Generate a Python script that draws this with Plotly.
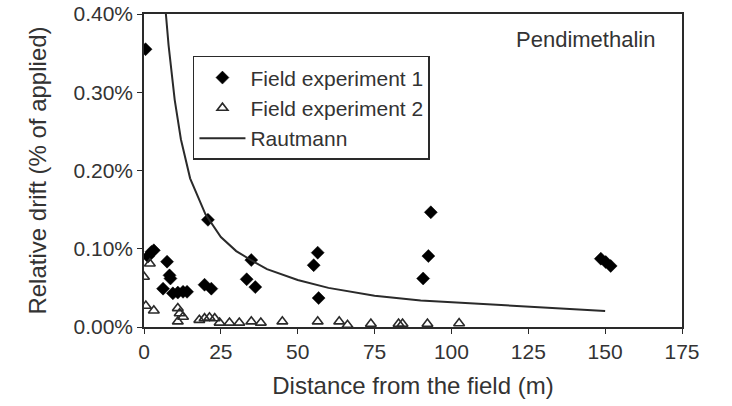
import plotly.graph_objects as go

# Field experiment 1 (distance m, relative drift fraction)
exp1_x = [0.5, 1.3, 2.4, 3.2, 7.5, 8.3, 8.6, 6.2, 9.4, 11.0, 12.7, 14.0,
          20.8, 19.7, 21.9, 34.9, 33.4, 36.2, 56.5, 55.2, 56.8,
          93.3, 92.5, 90.8, 148.6, 150.2, 151.8]
exp1_y = [0.00355, 0.00090, 0.00096, 0.00098, 0.000835, 0.00066, 0.00062, 0.00049,
          0.00043, 0.00044, 0.00045, 0.00045,
          0.00137, 0.00054, 0.00049, 0.000856, 0.00061, 0.00051,
          0.00095, 0.00079, 0.00037,
          0.001466, 0.000907, 0.00062, 0.000873, 0.00083, 0.00078]

# Field experiment 2
exp2_x = [0.0, 1.9, 0.6, 3.2, 11.0, 11.6, 12.7, 11.0, 18.0, 19.7, 21.3, 23.0,
          24.6, 27.8, 31.0, 34.9, 38.0, 45.0, 56.5, 63.5, 66.2, 73.8,
          82.8, 84.1, 92.2, 102.5]
exp2_y = [0.00064, 0.00081, 0.00027, 0.00021, 0.00024, 0.000175, 0.00013, 0.00007,
          0.00009, 0.00011, 0.00012, 0.00011, 0.000055, 0.000055, 0.000055,
          0.00007, 0.000055, 0.00007, 0.00007, 0.00007, 0.000025, 0.00004,
          0.00004, 0.00004, 0.00004, 0.000047]

# Rautmann curve
raut_x = [6.9, 8, 10, 12, 15, 20, 25, 30, 35, 40, 50, 60, 75, 90, 150]
raut_y = [0.0041, 0.0036, 0.0029, 0.0024, 0.0019, 0.00144, 0.00115, 0.00097,
          0.00085, 0.00074, 0.00060, 0.00050, 0.00040, 0.00034, 0.000205]

x_ticks = [0, 25, 50, 75, 100, 125, 150, 175]
y_ticks = [0.0, 0.001, 0.002, 0.003, 0.004]

FONT = "Liberation Sans, Arial, Helvetica, sans-serif"
INK = "#2a2a2a"

fig = go.Figure()
fig.add_trace(go.Scatter(
    x=exp1_x, y=exp1_y, mode="markers", name="Field experiment 1",
    marker=dict(symbol="diamond", size=10, color="black",
                line=dict(width=0.5, color="black"))))
fig.add_trace(go.Scatter(
    x=exp2_x, y=exp2_y, mode="markers", name="Field experiment 2",
    marker=dict(symbol="triangle-up-open", size=9.5, color=INK,
                line=dict(width=1.6, color=INK))))
fig.add_trace(go.Scatter(
    x=raut_x, y=raut_y, mode="lines", name="Rautmann",
    line=dict(color=INK, width=2)))

fig.update_layout(
    width=732, height=406,
    margin=dict(l=144, r=50, t=14, b=79),
    paper_bgcolor="white", plot_bgcolor="white",
    font=dict(family=FONT, size=21, color="#333"),
    showlegend=True,
    legend=dict(x=0.091, y=0.866, xanchor="left", yanchor="top",
                bordercolor=INK, borderwidth=1.5, bgcolor="white",
                font=dict(size=21, color="#333"),
                tracegroupgap=0, itemwidth=46),
    annotations=[dict(text="Pendimethalin", xref="paper", yref="paper",
                      x=0.954, y=0.965, xanchor="right", yanchor="top",
                      showarrow=False, font=dict(size=22, color="#333"))],
)
fig.update_xaxes(
    range=[0, 175], tickvals=x_ticks, ticktext=[str(v) for v in x_ticks],
    showline=True, linecolor=INK, linewidth=1.5, mirror=True, automargin=False,
    ticks="outside", ticklen=5, tickcolor=INK, showgrid=False, zeroline=False,
    title=dict(text="Distance from the field (m)", font=dict(size=24), standoff=15),
    tickfont=dict(size=21))
fig.update_yaxes(
    range=[0, 0.004], tickvals=y_ticks, tickformat=".2%",
    showline=True, linecolor=INK, linewidth=1.5, mirror=True, automargin=False,
    ticks="outside", ticklen=5, tickcolor=INK, showgrid=False, zeroline=False,
    ticklabeloverflow="allow",
    title=dict(text="Relative drift (% of applied)", font=dict(size=24), standoff=20),
    tickfont=dict(size=21))

fig.write_html("out.html", config={"displayModeBar": False},
               post_script="document.body.style.margin='0';document.body.style.overflow='hidden';")
